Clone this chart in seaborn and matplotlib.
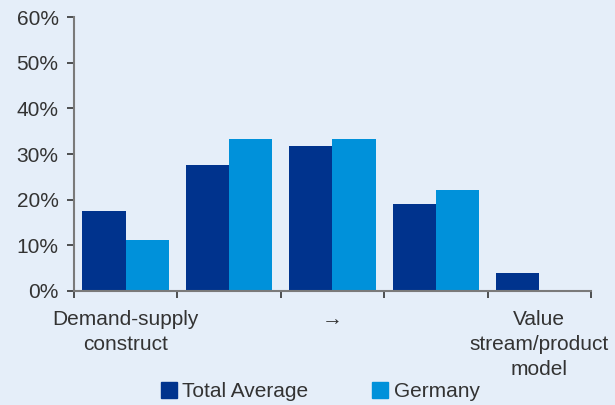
import pandas as pd
import seaborn as sns
import matplotlib.pyplot as plt
from matplotlib.ticker import FixedLocator, PercentFormatter

# values (percent)
categories = ["Demand-supply\nconstruct", "c2", "\u2192", "c4", "Value\nstream/product\nmodel"]
tick_labels = ["Demand-supply\nconstruct", "", "\u2192", "", "Value\nstream/product\nmodel"]
total_average = [17.5, 27.7, 31.7, 19.0, 4.0]
germany = [11.1, 33.3, 33.3, 22.2, 0.0]
series_names = ["Total Average", "Germany"]
colors = ["#00338d", "#0091da"]
bg = "#e5eef9"


def main():
    df = pd.DataFrame({
        "category": categories * 2,
        "series": [series_names[0]] * 5 + [series_names[1]] * 5,
        "value": total_average + germany,
    })

    sns.set_style("white")
    plt.rcParams["font.family"] = ["Liberation Sans", "DejaVu Sans"]
    plt.rcParams["text.color"] = "#333333"

    fig = plt.figure(figsize=(6.15, 4.05), dpi=100, facecolor=bg)
    ax = fig.add_axes([0.120, 0.2815, 0.841, 0.6765])
    ax.set_facecolor(bg)

    sns.barplot(data=df, x="category", y="value", hue="series", order=categories,
                hue_order=series_names, palette=colors, width=0.835, gap=0,
                saturation=1, ax=ax, legend=False, edgecolor="none", linewidth=0)

    ax.set_xlim(-0.5, 4.5)
    ax.set_ylim(0, 60)
    ax.set_yticks(range(0, 61, 10))
    ax.yaxis.set_major_formatter(PercentFormatter(decimals=0))
    ax.set_xticks(range(5))
    ax.set_xticklabels(tick_labels, linespacing=1.4)
    ax.xaxis.set_minor_locator(FixedLocator([-0.5, 0.5, 1.5, 2.5, 3.5, 4.5]))
    ax.tick_params(axis="x", which="major", bottom=True, length=0, pad=14,
                   labelsize=15, labelcolor="#333333")
    ax.tick_params(axis="x", which="minor", bottom=True, length=5, width=1.2,
                   color="#333333", direction="out")
    ax.tick_params(axis="y", left=True, length=5, width=1.2, color="#333333",
                   direction="out", labelsize=15, labelcolor="#333333", pad=6)
    ax.set_xlabel("")
    ax.set_ylabel("")
    for s in ["top", "right"]:
        ax.spines[s].set_visible(False)
    for s in ["left", "bottom"]:
        ax.spines[s].set_color("#7a7a7a")
        ax.spines[s].set_linewidth(1.5)

    handles = [plt.Line2D([], [], marker="s", linestyle="", markersize=11,
                          color=c) for c in colors]
    fig.legend(handles, series_names, loc="lower center", ncol=2, frameon=False,
               bbox_to_anchor=(0.52, -0.037), fontsize=15, handletextpad=0.2,
               columnspacing=3.0, handlelength=0.9)

    fig.savefig("out.png", dpi=100, facecolor=bg)


if __name__ == "__main__":
    main()
